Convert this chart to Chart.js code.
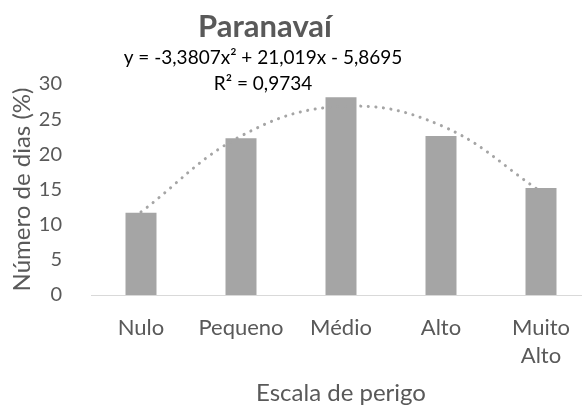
<!DOCTYPE html>
<html>
<head>
<meta charset="utf-8">
<script src="https://cdn.jsdelivr.net/npm/chart.js@4.4.1/dist/chart.umd.min.js"></script>
<style>
	html, body { margin: 0; padding: 0; background: #fff; overflow: hidden; }
	#wrap { width: 600px; height: 410px; }
</style>
</head>
<body>
<div id="wrap"><canvas id="chart"></canvas></div>
<script>
const categories = ['Nulo', 'Pequeno', 'Médio', 'Alto', ['Muito', 'Alto']];
const dias = [11.7, 22.3, 28.1, 22.6, 15.2];
// polynomial trendline at each category
const tendencia = [11.8, 22.6, 26.8, 24.1, 14.7];
const yTicks = [0, 5, 10, 15, 20, 25, 30];

const titulo = 'Paranavaí';
const equacao = 'y = -3,3807x² + 21,019x - 5,8695';
const r2 = 'R² = 0,9734';

const fonte = 'Lato';

// title and trendline label are drawn by hand, Excel puts them off-centre
const textos = {
	id: 'textos',
	afterDraw(chart) {
		const ctx = chart.ctx;
		ctx.save();
		ctx.textAlign = 'center';
		ctx.textBaseline = 'middle';
		ctx.fillStyle = '#595959';
		ctx.font = 'bold 31px ' + fonte;
		ctx.fillText(titulo, 265, 27);
		ctx.fillStyle = '#000';
		ctx.font = '19px ' + fonte;
		ctx.fillText(equacao, 263, 58);
		ctx.fillText(r2, 263, 84);
		ctx.restore();
	}
};

let chart = new Chart(
	document.getElementById('chart'),
	{
		type: 'bar',
		data: {
			labels: categories,
			datasets: [
				{
					type: 'line',
					data: tendencia,
					borderColor: '#a5a5a5',
					borderWidth: 3,
					borderDash: [0.1, 7.5],
					borderCapStyle: 'round',
					tension: 0.4,
					pointRadius: 0,
					fill: false,
					order: 0
				}, {
					data: dias,
					backgroundColor: '#a5a5a5',
					categoryPercentage: 1,
					barPercentage: 0.31,
					order: 1
				}
			]
		},
		options: {
			responsive: true,
			maintainAspectRatio: false,
			animation: false,
			layout: { padding: { top: 84, right: 9, left: 0, bottom: 2 } },
			plugins: {
				legend: { display: false },
				tooltip: { enabled: false }
			},
			scales: {
				x: {
					afterFit: axis => {
						axis.height = 113;
					},
					grid: { display: false },
					border: { color: '#d9d9d9', width: 1 },
					ticks: {
						color: '#595959',
						font: { family: fonte, size: 22, lineHeight: 1.27 },
						padding: 11,
						maxRotation: 0,
						autoSkip: false
					},
					title: {
						display: true,
						text: 'Escala de perigo',
						color: '#595959',
						font: { family: fonte, size: 24 },
						padding: { top: 9, bottom: 0 }
					}
				},
				y: {
					min: 0,
					max: 30,
					afterBuildTicks: axis => {
						axis.ticks = yTicks.map(v => ({ value: v }));
					},
					afterFit: axis => {
						axis.width = 91;
					},
					grid: { display: false, drawTicks: false },
					border: { display: false },
					ticks: {
						color: '#595959',
						font: { family: fonte, size: 20 },
						padding: 29
					},
					title: {
						display: true,
						text: 'Número de dias (%)',
						color: '#595959',
						font: { family: fonte, size: 24 },
						padding: { top: 8, bottom: 0 }
					}
				}
			}
		},
		plugins: [textos]
	}
);
</script>
</body>
</html>
